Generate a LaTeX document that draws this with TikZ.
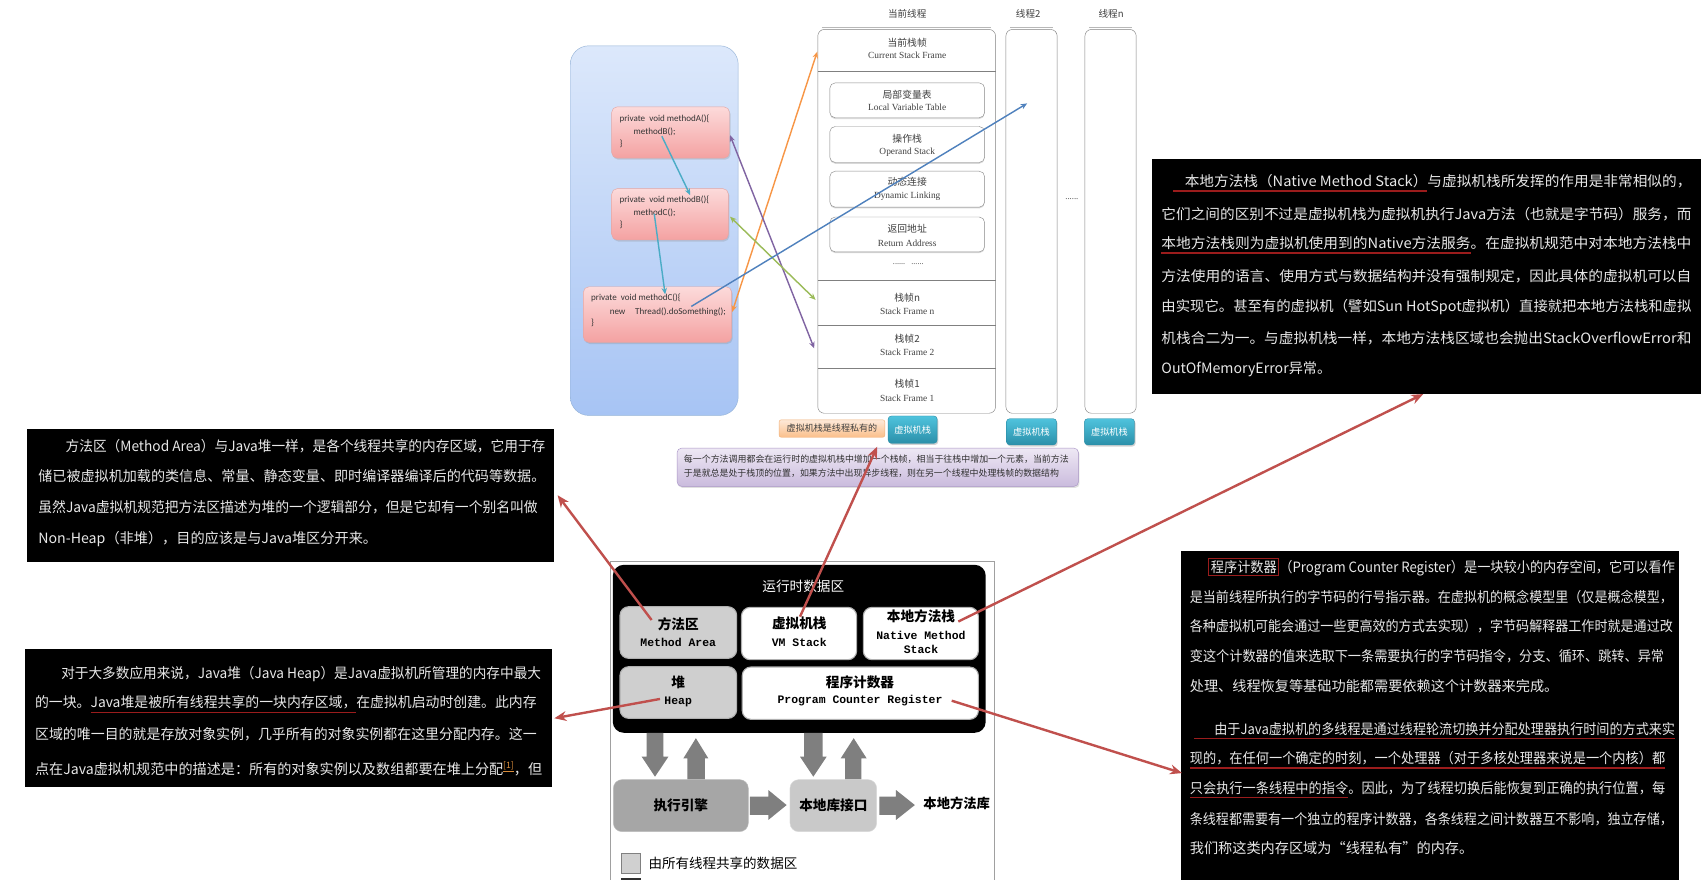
\documentclass[tikz,border=0pt]{standalone}
\usepackage{fontspec}
\usepackage{graphicx}
\setmainfont{Liberation Serif}
\newfontfamily\cjk{Noto Sans CJK SC}
\newfontfamily\monof{Liberation Mono}
\newfontfamily\calib{Carlito}
\usetikzlibrary{arrows.meta,shadows}
\definecolor{accteal}{HTML}{4BACC6}
\definecolor{accorange}{HTML}{F79646}
\definecolor{accpurple}{HTML}{8064A2}
\definecolor{accgreen}{HTML}{9BBB59}
\definecolor{accblue}{HTML}{4F81BD}
\definecolor{redarr}{HTML}{C0504D}
\definecolor{ulred}{HTML}{9B1C1C}
\definecolor{txtw}{HTML}{E8E8E8}
\definecolor{supc}{HTML}{D98C3A}
\definecolor{codec}{HTML}{333333}
\definecolor{greytxt}{HTML}{404040}
\definecolor{cBlueBd}{HTML}{95B3D7}
\definecolor{cBlueT}{HTML}{DCE8FB}
\definecolor{cBlueB}{HTML}{A7C4F4}
\definecolor{cPinkBd}{HTML}{E3A6A4}
\definecolor{cPinkT}{HTML}{FCDADA}
\definecolor{cPinkB}{HTML}{F4A2A2}
\definecolor{cG80}{HTML}{808080}
\definecolor{cG8C}{HTML}{8C8C8C}
\definecolor{cTealT}{HTML}{4FC3DD}
\definecolor{cTealB}{HTML}{2B8FA9}
\definecolor{cGB0}{HTML}{B0B0B0}
\definecolor{cG7F}{HTML}{7F7F7F}
\definecolor{cGB8}{HTML}{B8B8B8}
\definecolor{cOrT}{HTML}{FDE9D9}
\definecolor{cOrB}{HTML}{FBBF8A}
\definecolor{cOrBd}{HTML}{F2B27A}
\definecolor{cPuT}{HTML}{EEE8F4}
\definecolor{cPuB}{HTML}{CABBDD}
\definecolor{cPuBd}{HTML}{A893C6}
\definecolor{cG30}{HTML}{303030}
\definecolor{cGA0}{HTML}{A0A0A0}
\definecolor{cGCF}{HTML}{CFCFCF}
\definecolor{cGA6}{HTML}{A6A6A6}
\definecolor{cGBD}{HTML}{BDBDBD}
\definecolor{cGC9}{HTML}{C9C9C9}
\definecolor{cGD9}{HTML}{D9D9D9}
\definecolor{cGD0}{HTML}{D0D0D0}
\newcommand\fs[1]{\fontsize{#1}{#1}\selectfont}
\newcommand\fitw[2]{\resizebox{#1pt}{\height}{#2}}
\newcommand\redul[1]{\setbox0\hbox{#1}\rlap{\color{ulred}\rule[-4.5pt]{\wd0}{1.2pt}}\box0}
\newcommand\redfr[1]{{\setlength\fboxsep{1.5pt}\setlength\fboxrule{1pt}\color{ulred}\fbox{\color{txtw}#1}}}
\tikzset{
  ln/.style={anchor=west, inner sep=0pt, text=txtw, font=\cjk\fs{13}},
  blackbox/.style={fill=black, draw=none, inner sep=0pt, anchor=north west},
  vmbox/.style={draw=cBlueBd, rounded corners=17pt, top color=cBlueT, bottom color=cBlueB, minimum width=154, minimum height=339, inner sep=0pt},
  mbox/.style={draw=cPinkBd, rounded corners=5pt, top color=cPinkT, bottom color=cPinkB, inner sep=0pt, drop shadow={opacity=0.25, shadow xshift=1pt, shadow yshift=-1.5pt}},
  code/.style={anchor=west, inner sep=0pt, text=codec, font=\calib\fs{8.3}},
  colbox/.style={draw=cG80, fill=white, rounded corners=6pt, inner sep=0pt, minimum height=352},
  inbox/.style={draw=cG8C, fill=white, rounded corners=5pt, inner sep=0pt, minimum width=142, drop shadow={opacity=0.3, shadow xshift=0pt, shadow yshift=-1.2pt}},
  cn/.style={inner sep=0pt, text=greytxt, font=\cjk\fs{9}},
  en/.style={inner sep=0pt, text=greytxt, font=\fs{8.6}},
  ttl/.style={inner sep=0pt, text=greytxt, font=\cjk\fs{8.8}},
  tealbtn/.style={rounded corners=3pt, top color=cTealT, bottom color=cTealB, draw=cTealB, text=white, font=\cjk\fs{8.4}, inner sep=0pt, drop shadow={opacity=0.35, shadow xshift=1pt, shadow yshift=-1.5pt}},
  arr/.style={line width=1.3pt, -{Stealth[length=6pt,width=5pt]}},
  darr/.style={line width=1.3pt, {Stealth[length=6pt,width=5pt]}-{Stealth[length=6pt,width=5pt]}},
  redarrow/.style={draw=redarr, line width=2.2pt, -{Stealth[length=11pt,width=9pt]}},
  rdbox/.style={rounded corners=8pt, draw=cGB0, line width=1pt, inner sep=0pt},
  bcn/.style={inner sep=0pt, font=\cjk\bfseries\fs{12.5}, text=black},
  bmono/.style={inner sep=0pt, font=\monof\bfseries\fs{10.5}, text=black},
  garr/.style={fill=cG7F, draw=none}
}
\begin{document}
\begin{tikzpicture}[x=1pt,y=-1pt]
\useasboundingbox (0,0) rectangle (1560,807);
\fill[white] (0,0) rectangle (1560,807);

%================ top diagram =================
\node[vmbox] (vm) at (600,211.5) {};
\node[mbox, minimum width=108, minimum height=47] (ma) at (615,121.5) {};
\node[mbox, minimum width=107, minimum height=47] (mb) at (614.5,196.5) {};
\node[mbox, minimum width=136, minimum height=51] (mc) at (603,288.5) {};
\node[code] (ca1) at (568,109.5) {private\ \ void methodA()\{};
\node[code] (ca2) at (581,120.8) {methodB();};
\node[code] (ca3) at (568,131.5) {\}};
\node[code] (cb1) at (568,183.4) {private\ \ void methodB()\{};
\node[code] (cb2) at (581,195.6) {methodC();};
\node[code] (cb3) at (568,206.4) {\}};
\node[code] (cc1) at (542,273.6) {private\ \ void methodC()\{};
\node[code] (cc2) at (559,285.8) {new\hspace{9pt}Thread().doSomething();};
\node[code] (cc3) at (542,296) {\}};

% thread columns
\node[ttl] (t1) at (832,13) {当前线程};
\node[ttl] (t2) at (943,13) {线程2};
\node[ttl] (t3) at (1019,13) {线程n};
\node[colbox, minimum width=163] (cur) at (831.5,203) {};
\node[colbox, minimum width=47] (th2) at (946,203) {};
\node[colbox, minimum width=47] (thn) at (1018.5,203) {};
\draw[cGB8, line width=1.6pt] ([xshift=4pt,yshift=1.6pt]cur.north west) -- ([xshift=-4pt,yshift=1.6pt]cur.north east);
\draw[cGB8, line width=1.6pt] ([xshift=4pt,yshift=1.6pt]th2.north west) -- ([xshift=-4pt,yshift=1.6pt]th2.north east);
\draw[cGB8, line width=1.6pt] ([xshift=4pt,yshift=1.6pt]thn.north west) -- ([xshift=-4pt,yshift=1.6pt]thn.north east);
\node[inner sep=0pt, text=greytxt, font=\fs{8}] (dots) at (983,183) {......};

\node[cn] (csf1) at (832,39) {当前栈帧};
\node[en] (csf2) at (832,51) {Current Stack Frame};
\draw[cG80] (750,65) -- (913,65);
\node[inbox, minimum height=32] (lvt) at (832,92) {};
\node[cn] at (832,87) {局部变量表};
\node[en] at (832,98.5) {Local Variable Table};
\node[inbox, minimum height=33] (ops) at (832,132.5) {};
\node[cn] at (832,127) {操作栈};
\node[en] at (832,140) {Operand Stack};
\node[inbox, minimum height=33] (dyn) at (832,173.5) {};
\node[cn] at (832,167) {动态连接};
\node[en] at (832,180) {Dynamic Linking};
\node[inbox, minimum height=32] (ret) at (832,215) {};
\node[cn] at (832,210) {返回地址};
\node[en] at (832,223) {Return Address};
\node[inner sep=0pt, text=greytxt, font=\fs{7.5}] (mid) at (833,242) {......\ \ \ ......};
\draw[cG80] (750,257) -- (913,257);
\draw[cG80] (750,298) -- (913,298);
\draw[cG80] (750,338) -- (913,338);
\node[cn] (sfn1) at (832,273) {栈帧n};
\node[en] (sfn2) at (832,285.5) {Stack Frame n};
\node[cn] (sf21) at (832,310.5) {栈帧2};
\node[en] (sf22) at (832,323.5) {Stack Frame 2};
\node[cn] (sf11) at (832,352) {栈帧1};
\node[en] (sf12) at (832,365) {Stack Frame 1};

\node[tealbtn, minimum width=45, minimum height=25] (b1) at (837,394) {虚拟机栈};
\node[tealbtn, minimum width=46, minimum height=24] (b2) at (946,396) {虚拟机栈};
\node[tealbtn, minimum width=46, minimum height=24] (b3) at (1017.5,396) {虚拟机栈};
\node[rounded corners=2pt, top color=cOrT, bottom color=cOrB, draw=cOrBd, minimum width=97, minimum height=16, inner sep=0pt, text=greytxt, font=\cjk\fs{8.3}] (priv) at (763,393) {虚拟机栈是线程私有的};
\node[rounded corners=4pt, top color=cPuT, bottom color=cPuB, draw=cPuBd, minimum width=368, minimum height=35, inner sep=0pt, drop shadow={opacity=0.25, shadow xshift=1pt, shadow yshift=-1.5pt}] (pur) at (805,428.5) {};
\node[anchor=west, inner sep=0pt, text=cG30, font=\cjk\fs{8.2}] (pur1) at (627,421) {\fitw{353}{每一个方法调用都会在运行时的虚拟机栈中增加一个栈帧，相当于往栈中增加一个元素，当前方法}};
\node[anchor=west, inner sep=0pt, text=cG30, font=\cjk\fs{8.2}] (pur2) at (627,434) {\fitw{344}{于是就总是处于栈顶的位置，如果方法中出现异步线程，则在另一个线程中处理栈帧的数据结构}};

% top arrows
\coordinate (pA) at (607,125);
\coordinate (pB) at (633,179);
\coordinate (pB2) at (600,196);
\coordinate (pC) at (610,270);
\coordinate (oC) at (671.5,286);
\coordinate (oS) at (749.5,47.4);
\coordinate (uA) at (669.5,124);
\coordinate (uS) at (746.7,319.5);
\coordinate (gB) at (669.5,198.7);
\coordinate (gS) at (748,275);
\coordinate (bC) at (634,281);
\coordinate (bT) at (942,94.8);
\draw[arr, draw=accteal] (pA) -- (pB);
\draw[arr, draw=accteal] (pB2) -- (pC);
\draw[darr, draw=accorange] (oC) -- (oS);
\draw[darr, draw=accpurple] (uA) -- (uS);
\draw[darr, draw=accgreen] (gB) -- (gS);
\draw[arr, draw=accblue] (bC) -- (bT);

%================ text boxes =================
\node[blackbox, minimum width=483, minimum height=122] (mabox) at (25,393) {};
\node[ln] (ma1) at (60,409) {\fitw{440}{方法区（Method Area）与Java堆一样，是各个线程共享的内存区域，它用于存}};
\node[ln] (ma2) at (35,437) {\fitw{465}{储已被虚拟机加载的类信息、常量、静态变量、即时编译器编译后的代码等数据。}};
\node[ln] (ma3) at (35,465) {\fitw{458}{虽然Java虚拟机规范把方法区描述为堆的一个逻辑部分，但是它却有一个别名叫做}};
\node[ln] (ma4) at (35,494) {Non-Heap（非堆），目的应该是与Java堆区分开来。};

\node[blackbox, minimum width=483, minimum height=127] (hpbox) at (23,595) {};
\node[ln] (hp1) at (56,618) {\fitw{440}{对于大多数应用来说，Java堆（Java Heap）是Java虚拟机所管理的内存中最大}};
\node[ln] (hp2) at (32,646) {\fitw{460}{的一块。\redul{Java堆是被所有线程共享的一块内存区域，}在虚拟机启动时创建。此内存}};
\node[ln] (hp3) at (32,673.5) {\fitw{460}{区域的唯一目的就是存放对象实例，几乎所有的对象实例都在这里分配内存。这一}};
\node[ln] (hp4) at (32,705) {\fitw{465}{点在Java虚拟机规范中的描述是：所有的对象实例以及数组都要在堆上分配\raisebox{6pt}{\fs{8}\color{supc}\underline{[1]}}，但}};

\node[blackbox, minimum width=504, minimum height=215] (nmbox) at (1056,146) {};
\node[ln] (nm1) at (1076,168) {\fitw{475}{\redul{\hspace*{10pt}本地方法栈（Native Method Stack）}与虚拟机栈所发挥的作用是非常相似的，}};
\node[ln] (nm2) at (1065,196.4) {\fitw{486}{它们之间的区别不过是虚拟机栈为虚拟机执行Java方法（也就是字节码）服务，而}};
\node[ln] (nm3) at (1065,224.8) {\fitw{486}{\redul{本地方法栈则为虚拟机使用到的Native方法服务}。在虚拟机规范中对本地方法栈中}};
\node[ln] (nm4) at (1065,253.2) {\fitw{486}{方法使用的语言、使用方式与数据结构并没有强制规定，因此具体的虚拟机可以自}};
\node[ln] (nm5) at (1065,281.6) {\fitw{486}{由实现它。甚至有的虚拟机（譬如Sun HotSpot虚拟机）直接就把本地方法栈和虚拟}};
\node[ln] (nm6) at (1065,310) {\fitw{486}{机栈合二为一。与虚拟机栈一样，本地方法栈区域也会抛出StackOverflowError和}};
\node[ln] (nm7) at (1065,338.4) {OutOfMemoryError异常。};

\node[blackbox, minimum width=457, minimum height=310] (pcbox) at (1083,505) {};
\node[ln] (pc1) at (1108,520) {\fitw{428}{\redfr{程序计数器}（Program Counter Register）是一块较小的内存空间，它可以看作}};
\node[ln] (pc2) at (1091,547.5) {\fitw{443}{是当前线程所执行的字节码的行号指示器。在虚拟机的概念模型里（仅是概念模型，}};
\node[ln] (pc3) at (1091,574.5) {\fitw{443}{各种虚拟机可能会通过一些更高效的方式去实现），字节码解释器工作时就是通过改}};
\node[ln] (pc4) at (1091,602) {\fitw{435}{变这个计数器的值来选取下一条需要执行的字节码指令，分支、循环、跳转、异常}};
\node[ln] (pc5) at (1091,629) {处理、线程恢复等基础功能都需要依赖这个计数器来完成。};
\node[ln] (pc6) at (1095,670) {\fitw{441}{\redul{\hspace*{20pt}由于Java虚拟机的多线程是通过线程轮流切换并分配处理器执行时间的方式来实}}};
\node[ln] (pc7) at (1091,697) {\fitw{436}{\redul{现的，在任何一个确定的时刻，一个处理器（对于多核处理器来说是一个内核）都}}};
\node[ln] (pc8) at (1091,724) {\fitw{436}{\redul{只会执行一条线程中的指令}。因此，为了线程切换后能恢复到正确的执行位置，每}};
\node[ln] (pc9) at (1091,751) {\fitw{443}{条线程都需要有一个独立的程序计数器，各条线程之间计数器互不影响，独立存储，}};
\node[ln] (pc10) at (1091,778) {我们称这类内存区域为“线程私有”的内存。};

%================ bottom diagram =================
\draw[cGA0, line width=0.8pt] (560,815) |- (912,515) -- (912,815);
\node[fill=black, draw=none, rounded corners=10pt, minimum width=342, minimum height=154, inner sep=0pt] (rda) at (733,595) {};
\node[inner sep=0pt, text=white, font=\cjk\fs{12.5}] (rdat) at (736.7,538) {运行时数据区};
\node[rdbox, fill=cGCF, minimum width=107, minimum height=47.4] (rma) at (622.1,580.1) {};
\node[rdbox, fill=white, minimum width=105.6, minimum height=48] (rvs) at (732.8,581) {};
\node[rdbox, fill=white, minimum width=105.5, minimum height=48] (rnm) at (844.5,581) {};
\node[rdbox, fill=cGCF, minimum width=107, minimum height=47.4] (rhp) at (622.1,635.1) {};
\node[rdbox, fill=white, minimum width=216.6, minimum height=48] (rpc) at (789,635.7) {};
\node[bcn] at (622,572.3) {方法区};
\node[bmono] at (622,589.4) {Method Area};
\node[bcn] at (733,572) {虚拟机栈};
\node[bmono] at (733,589.4) {VM Stack};
\node[bcn] at (844.6,565.5) {本地方法栈};
\node[bmono] at (844.6,582.4) {Native Method};
\node[bmono] at (844.6,595.5) {Stack};
\node[bcn] at (622,626) {堆};
\node[bmono] at (622,643.5) {Heap};
\node[bcn] at (788.7,626) {程序计数器};
\node[bmono] at (788.7,642.6) {Program Counter Register};

% block arrows
\fill[garr] (593,672) -- (608.4,672) -- (608.4,694) -- (613,694) -- (600.7,712.3) -- (588.5,694) -- (593,694) -- cycle;
\fill[garr] (630.3,715) -- (646.5,715) -- (646.5,695.5) -- (649.6,695.5) -- (638.2,677) -- (626.7,695.5) -- (630.3,695.5) -- cycle;
\fill[garr] (737.4,672) -- (754.5,672) -- (754.5,694) -- (758.1,694) -- (745.9,712.3) -- (733.7,694) -- (737.4,694) -- cycle;
\fill[garr] (775,715) -- (790,715) -- (790,695.5) -- (794.8,695.5) -- (782.9,677) -- (771,695.5) -- (775,695.5) -- cycle;
\fill[garr] (687.8,730.6) -- (704.6,730.6) -- (704.6,724.5) -- (721.4,738.3) -- (704.6,752) -- (704.6,747.4) -- (687.8,747.4) -- cycle;
\fill[garr] (806.4,730.6) -- (821.7,730.6) -- (821.7,724.5) -- (839,738.3) -- (821.7,752) -- (821.7,747.4) -- (806.4,747.4) -- cycle;

\node[rounded corners=8pt, fill=cGA6, draw=cGBD, minimum width=123.8, minimum height=47.7, inner sep=0pt, font=\cjk\bfseries\fs{12.5}] (exe) at (624.4,738.85) {执行引擎};
\node[rounded corners=8pt, fill=cGC9, draw=cGD9, minimum width=79.5, minimum height=47.7, inner sep=0pt, font=\cjk\bfseries\fs{12.5}] (nli) at (764.25,738.85) {本地库接口};
\node[inner sep=0pt, font=\cjk\bfseries\fs{12.2}] (nlib) at (877.4,736.7) {本地方法库};
\node[fill=cGD0, draw=cG80, line width=0.8pt, minimum width=17, minimum height=18.4, inner sep=0pt] (lg1) at (578.5,791.8) {};
\node[anchor=west, inner sep=0pt, font=\cjk\fs{12.4}] (lg1t) at (594.6,791.7) {由所有线程共享的数据区};
\draw[cG30, line width=1.2pt] (570,806) rectangle (587,822);

% red arrows
\coordinate (sMA) at (597.6,568.6);
\coordinate (sVS) at (733.7,565.5);
\coordinate (eVS) at (804.5,409.6);
\coordinate (sNM) at (878.9,570);
\coordinate (sHP) at (605.3,641);
\coordinate (sPC) at (872.8,642.6);
\coordinate (ePC) at (1084,709);
\draw[redarrow] (sMA) -- ([xshift=3pt]mabox.east);
\draw[redarrow] (sVS) -- (eVS);
\draw[redarrow] (sNM) -- ([xshift=-3pt]nmbox.south);
\draw[redarrow] (sHP) -- ([xshift=2pt]hpbox.east);
\draw[redarrow] (sPC) -- (ePC);
\end{tikzpicture}
\end{document}
